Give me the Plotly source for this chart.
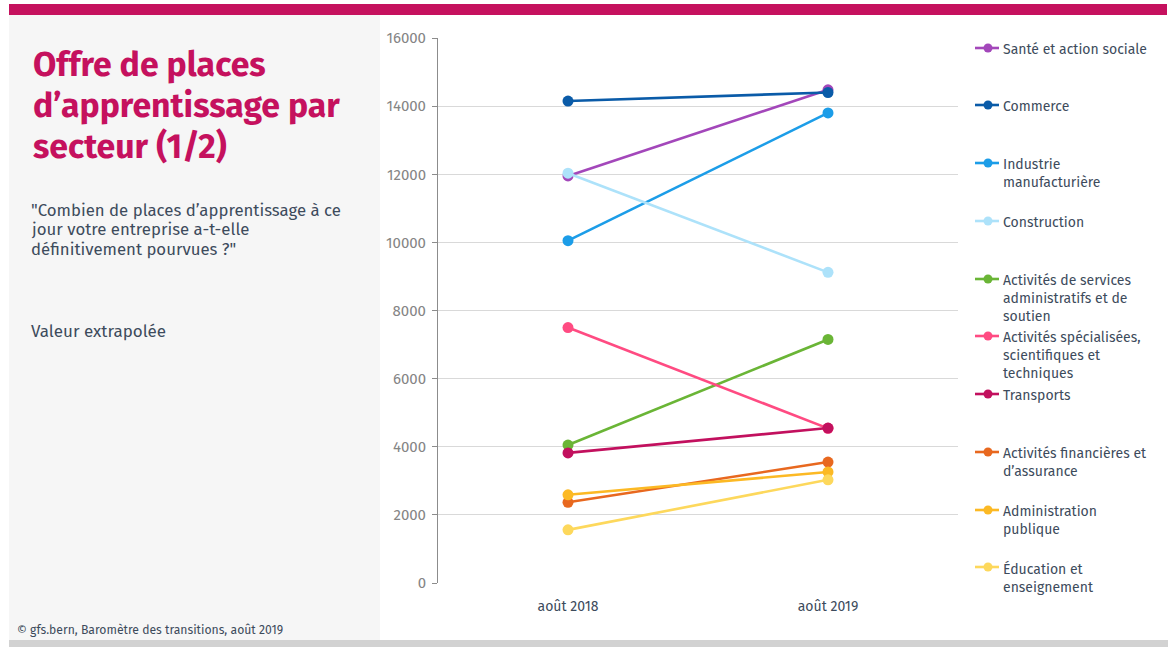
import plotly.graph_objects as go

# Secteurs, valeurs et couleurs
periods = ["août 2018", "août 2019"]
sectors = [
    "Santé et action sociale",
    "Commerce",
    "Industrie<br>manufacturière",
    "Construction",
    "Activités de services<br>administratifs et de<br>soutien",
    "Activités spécialisées,<br>scientifiques et<br>techniques",
    "Transports",
    "Activités financières et<br>d’assurance",
    "Administration<br>publique",
    "Éducation et<br>enseignement",
]
values_2018 = [11950, 14150, 10050, 12030, 4050, 7500, 3820, 2370, 2590, 1560]
values_2019 = [14480, 14400, 13800, 9120, 7150, 4540, 4550, 3550, 3260, 3030]
colors = ["#A347BA", "#0A5BA8", "#1C9DE8", "#ADE2FA", "#6AB536",
          "#FF4B82", "#C2105E", "#E8681F", "#FCB924", "#FDD85C"]
y_ticks = [0, 2000, 4000, 6000, 8000, 10000, 12000, 14000, 16000]

title_lines = ["Offre de places", "d’apprentissage par", "secteur (1/2)"]
question_lines = ["\"Combien de places d’apprentissage à ce",
                  "jour votre entreprise a-t-elle",
                  "définitivement pourvues ?\""]

W, H = 1168, 647
FONT = "Fira Sans, Noto Sans, sans-serif"
TEXT = "#3D4B5C"
MAGENTA = "#C5115E"


def px(x):
    return min(max(x / W, 0), 1)


def py(y):
    return min(max(1 - y / H, 0), 1)


fig = go.Figure()
for name, a, b, c in zip(sectors, values_2018, values_2019, colors):
    fig.add_trace(go.Scatter(
        x=periods, y=[a, b], mode="lines+markers", name=name.replace("<br>", " "),
        line=dict(color=c, width=2.6),
        marker=dict(color=c, size=11),
        showlegend=False,
    ))

shapes = [
    # bandeau supérieur, panneau gauche, bandeau inférieur
    dict(type="rect", xref="paper", yref="paper", x0=px(9), x1=px(1167), y0=py(15), y1=py(4),
         fillcolor=MAGENTA, line_width=0, layer="below"),
    dict(type="rect", xref="paper", yref="paper", x0=px(9), x1=px(380), y0=py(640), y1=py(15),
         fillcolor="#F6F6F6", line_width=0, layer="below"),
    dict(type="rect", xref="paper", yref="paper", x0=px(9), x1=1, y0=py(647), y1=py(640),
         fillcolor="#D2D2D2", line_width=0, layer="below"),
]

annotations = []
for line, cy in zip(title_lines, [65, 106, 147]):
    annotations.append(dict(text=line, x=px(31), y=py(cy), xref="paper", yref="paper",
                            xanchor="left", yanchor="middle", showarrow=False, align="left",
                            font=dict(family=FONT, size=33.8, color=MAGENTA, weight="bold")))
for line, cy in zip(question_lines, [210, 229.5, 249]):
    annotations.append(dict(text=line, x=px(29), y=py(cy), xref="paper", yref="paper",
                            xanchor="left", yanchor="middle", showarrow=False, align="left",
                            font=dict(family=FONT, size=16.8, color=TEXT)))
annotations += [
    dict(text="Valeur extrapolée",
         x=px(29), y=py(331), xref="paper", yref="paper", xanchor="left", yanchor="middle",
         showarrow=False, align="left",
         font=dict(family=FONT, size=17, color=TEXT)),
    dict(text="© gfs.bern, Baromètre des transitions, août 2019",
         x=px(15), y=py(630), xref="paper", yref="paper", xanchor="left", yanchor="middle",
         showarrow=False, align="left",
         font=dict(family=FONT, size=12.2, color=TEXT)),
]

# Légende dessinée à droite du graphique
legend_y = [48, 105, 163, 221, 279, 336, 394, 452, 510, 567]
for name, c, ly in zip(sectors, colors, legend_y):
    shapes.append(dict(type="line", xref="paper", yref="paper",
                       x0=px(975), x1=px(999), y0=py(ly), y1=py(ly),
                       line=dict(color=c, width=2.6)))
    shapes.append(dict(type="circle", xref="paper", yref="paper",
                       x0=px(983.5), x1=px(992.5), y0=py(ly + 4.5), y1=py(ly - 4.5),
                       fillcolor=c, line=dict(color=c, width=0)))
    annotations.append(dict(text=name, x=px(1001), y=py(ly - 9.5), xref="paper", yref="paper",
                            xanchor="left", yanchor="top", showarrow=False, align="left",
                            font=dict(family=FONT, size=14, color=TEXT)))

fig.update_layout(
    width=W, height=H,
    margin=dict(l=0, r=0, t=0, b=0, autoexpand=False),
    paper_bgcolor="white", plot_bgcolor="white",
    shapes=shapes, annotations=annotations,
    xaxis=dict(domain=[px(438), px(958)], type="category", range=[-0.5, 1.5],
               showgrid=False, showline=False, zeroline=False, ticks="",
               ticklabelstandoff=13, automargin=False,
               tickfont=dict(family=FONT, size=14, color=TEXT)),
    yaxis=dict(domain=[py(583), py(38)], range=[0, 16000], tickvals=y_ticks,
               tickformat="d", showgrid=True, gridcolor="#D9D9D9", gridwidth=1,
               zeroline=False, showline=True, linecolor="#8C8C8C", linewidth=1,
               ticks="outside", ticklen=5, tickcolor="#8C8C8C",
               ticklabelstandoff=3, automargin=False,
               tickfont=dict(family=FONT, size=15, color="#858585")),
    showlegend=False,
)

fig.write_html("out.html")
